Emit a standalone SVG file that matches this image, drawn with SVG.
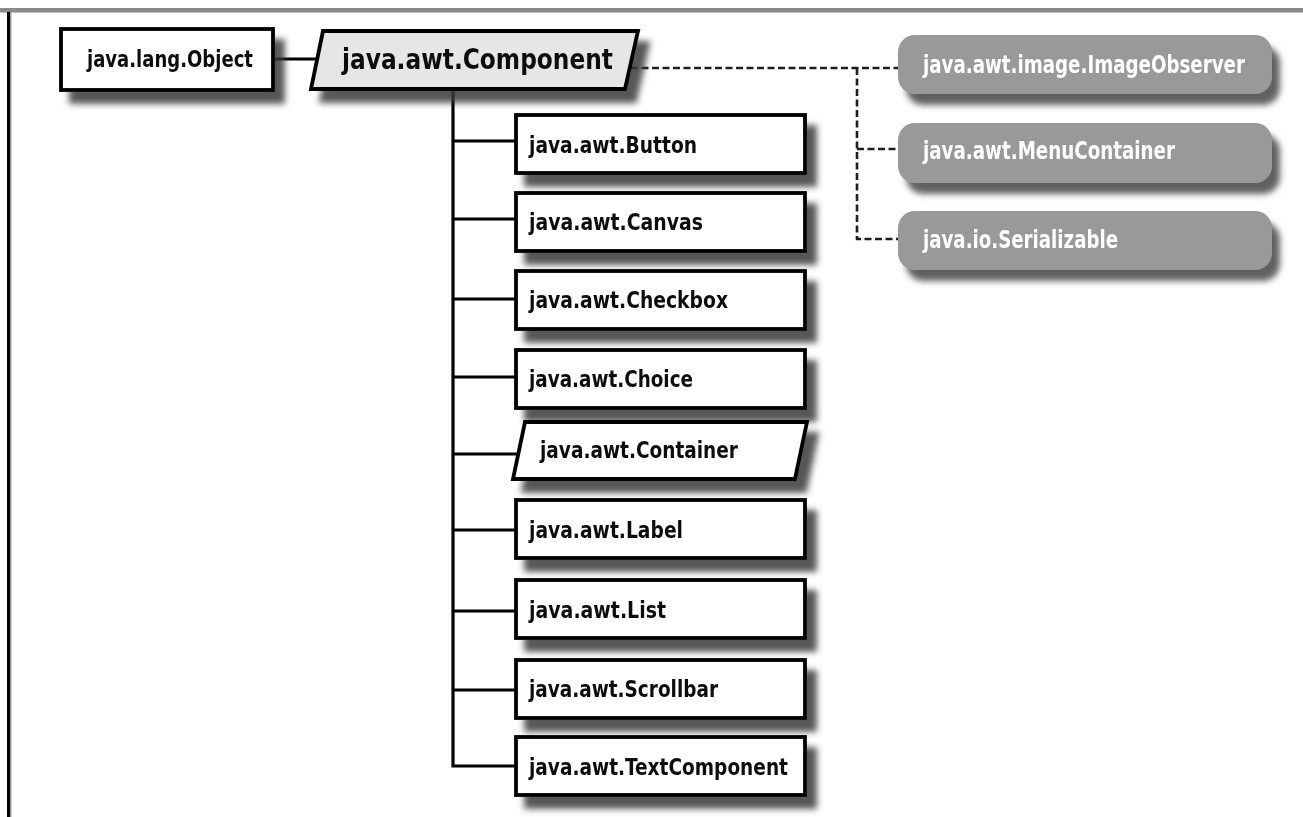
<svg xmlns="http://www.w3.org/2000/svg" width="1303" height="817" viewBox="0 0 1303 817">
  <defs>
    <filter id="shadow" x="-10%" y="-30%" width="130%" height="190%">
      <feGaussianBlur in="SourceAlpha" stdDeviation="3.2" result="b"/>
      <feOffset in="b" dx="10" dy="12" result="o"/>
      <feFlood flood-color="#3a3a3a" flood-opacity="0.85"/>
      <feComposite in2="o" operator="in" result="s"/>
      <feMerge><feMergeNode in="s"/><feMergeNode in="SourceGraphic"/></feMerge>
    </filter>
    <filter id="shadow2" x="-10%" y="-30%" width="130%" height="190%">
      <feGaussianBlur in="SourceAlpha" stdDeviation="3" result="b"/>
      <feOffset in="b" dx="8" dy="11" result="o"/>
      <feFlood flood-color="#505050" flood-opacity="0.9"/>
      <feComposite in2="o" operator="in" result="s"/>
      <feMerge><feMergeNode in="s"/><feMergeNode in="SourceGraphic"/></feMerge>
    </filter>
    <style>
      .box { fill: #ffffff; stroke: #000000; stroke-width: 3.8; stroke-linejoin: miter; }
      .abs { fill: #e6e6e6; stroke: #000000; stroke-width: 3.8; stroke-linejoin: miter; }
      .iface { fill: #999999; stroke: none; }
      .lbl { font-family: "Liberation Sans Narrow", "DejaVu Sans Condensed", "Liberation Sans", sans-serif; font-weight: bold; font-size: 23.5px; fill: #111111; }
      .big { font-size: 28px; }
      .wlbl { fill: #ffffff; font-size: 24px; }
      .solid { fill: none; stroke: #000000; stroke-width: 3.2; }
      .dash { fill: none; stroke: #1e1e1e; stroke-width: 2.6; stroke-dasharray: 7 3.5; }
    </style>
  </defs>

  <rect x="0" y="0" width="1303" height="817" fill="#ffffff"/>
  <!-- frame -->
  <rect x="0" y="8" width="1303" height="4.5" fill="#8a8a8a"/>
  <rect x="7" y="12" width="3" height="805" fill="#000000"/>
  <rect x="10" y="12" width="1.5" height="805" fill="#9a9a9a"/>

  <g id="connectors">
    <line class="solid" x1="273" y1="59" x2="318" y2="59"/>
    <polyline class="solid" points="453,89 453,766 516,766"/>
    <line class="solid" x1="453" y1="141" x2="516" y2="141"/>
    <line class="solid" x1="453" y1="219" x2="516" y2="219"/>
    <line class="solid" x1="453" y1="299" x2="516" y2="299"/>
    <line class="solid" x1="453" y1="377" x2="516" y2="377"/>
    <line class="solid" x1="453" y1="454" x2="519" y2="454"/>
    <line class="solid" x1="453" y1="530" x2="516" y2="530"/>
    <line class="solid" x1="453" y1="611" x2="516" y2="611"/>
    <line class="solid" x1="453" y1="690" x2="516" y2="690"/>
    <line class="dash" x1="631" y1="68" x2="898" y2="68"/>
    <polyline class="dash" points="857,68 857,239 898,239"/>
    <line class="dash" x1="857" y1="149" x2="898" y2="149"/>
  </g>

  <g id="node-object" filter="url(#shadow)">
    <rect class="box" x="61" y="29" width="212" height="61"/>
    <text class="lbl" x="87" y="67" textLength="166" lengthAdjust="spacingAndGlyphs">java.lang.Object</text>
  </g>

  <g id="node-component" filter="url(#shadow)">
    <polygon class="abs" points="323,31 638,31 625,89 311,89"/>
    <text class="lbl big" x="342" y="69" textLength="271" lengthAdjust="spacingAndGlyphs">java.awt.Component</text>
  </g>

  <g id="node-button" filter="url(#shadow)">
    <rect class="box" x="516" y="115" width="289" height="58"/>
    <text class="lbl" x="529" y="153" textLength="168" lengthAdjust="spacingAndGlyphs">java.awt.Button</text>
  </g>
  <g id="node-canvas" filter="url(#shadow)">
    <rect class="box" x="516" y="193" width="289" height="58"/>
    <text class="lbl" x="529" y="230" textLength="174" lengthAdjust="spacingAndGlyphs">java.awt.Canvas</text>
  </g>
  <g id="node-checkbox" filter="url(#shadow)">
    <rect class="box" x="516" y="271" width="289" height="58"/>
    <text class="lbl" x="529" y="308" textLength="199" lengthAdjust="spacingAndGlyphs">java.awt.Checkbox</text>
  </g>
  <g id="node-choice" filter="url(#shadow)">
    <rect class="box" x="516" y="350" width="289" height="58"/>
    <text class="lbl" x="529" y="387" textLength="164" lengthAdjust="spacingAndGlyphs">java.awt.Choice</text>
  </g>
  <g id="node-container" filter="url(#shadow)">
    <polygon class="box" points="525,422 807,422 795,479 513,479"/>
    <text class="lbl" x="540" y="458" textLength="198" lengthAdjust="spacingAndGlyphs">java.awt.Container</text>
  </g>
  <g id="node-label" filter="url(#shadow)">
    <rect class="box" x="516" y="500" width="289" height="58"/>
    <text class="lbl" x="529" y="538" textLength="154" lengthAdjust="spacingAndGlyphs">java.awt.Label</text>
  </g>
  <g id="node-list" filter="url(#shadow)">
    <rect class="box" x="516" y="580" width="289" height="58"/>
    <text class="lbl" x="529" y="618" textLength="137" lengthAdjust="spacingAndGlyphs">java.awt.List</text>
  </g>
  <g id="node-scrollbar" filter="url(#shadow)">
    <rect class="box" x="516" y="660" width="289" height="58"/>
    <text class="lbl" x="529" y="697" textLength="189" lengthAdjust="spacingAndGlyphs">java.awt.Scrollbar</text>
  </g>
  <g id="node-textcomponent" filter="url(#shadow)">
    <rect class="box" x="516" y="737" width="289" height="58"/>
    <text class="lbl" x="529" y="775" textLength="259" lengthAdjust="spacingAndGlyphs">java.awt.TextComponent</text>
  </g>

  <g id="node-imageobserver" filter="url(#shadow2)">
    <rect class="iface" x="898" y="35" width="374" height="59" rx="17" ry="17"/>
    <text class="lbl wlbl" x="923" y="73" textLength="322" lengthAdjust="spacingAndGlyphs">java.awt.image.ImageObserver</text>
  </g>
  <g id="node-menucontainer" filter="url(#shadow2)">
    <rect class="iface" x="898" y="123" width="374" height="60" rx="17" ry="17"/>
    <text class="lbl wlbl" x="923" y="159" textLength="252" lengthAdjust="spacingAndGlyphs">java.awt.MenuContainer</text>
  </g>
  <g id="node-serializable" filter="url(#shadow2)">
    <rect class="iface" x="898" y="211" width="374" height="59" rx="17" ry="17"/>
    <text class="lbl wlbl" x="923" y="248" textLength="195" lengthAdjust="spacingAndGlyphs">java.io.Serializable</text>
  </g>
</svg>
